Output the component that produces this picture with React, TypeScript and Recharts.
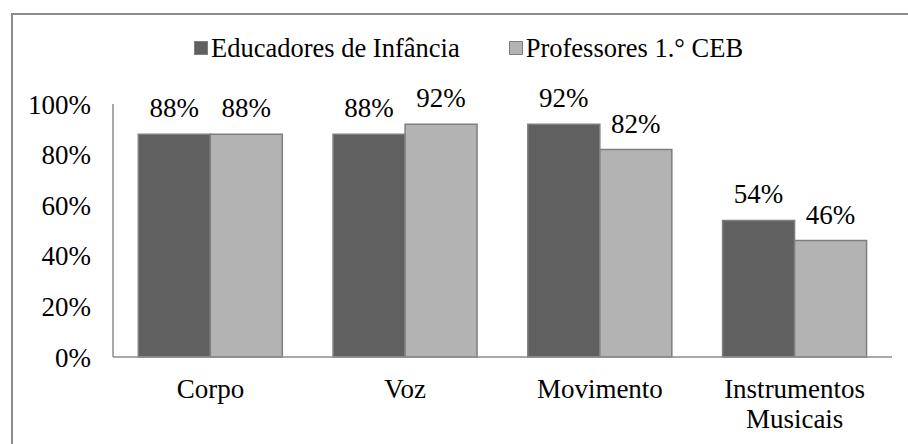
import { Bar, BarChart, XAxis, YAxis, Legend, LabelList } from "recharts"

const categories = ["Corpo", "Voz", "Movimento", "Instrumentos Musicais"]
const educadores = [88, 88, 92, 54]
const professores = [88, 92, 82, 46]
const yTicks = [0, 20, 40, 60, 80, 100]
const seriesNames = ["Educadores de Infância", "Professores 1.° CEB"]

const data = categories.map((name, i) => ({
    name,
    educadores: educadores[i],
    professores: professores[i],
}))

const FONT = "'Liberation Serif', 'Times New Roman', Tinos, 'Nimbus Roman', 'DejaVu Serif', serif"
const FS = 27
const DARK = "#606060"
const LIGHT = "#b3b3b3"
const EDGE = "#7f7f7f"

function CategoryTick(props: any) {
    const { x, y, payload } = props
    const label: string = payload.value
    const lines = label.length > 12 ? label.split(" ") : [label]
    return (
        <text x={x} y={y + 33} textAnchor="middle" fill="#000" style={{ fontFamily: FONT, fontSize: FS }}>
            {lines.map((l, i) => (
                <tspan key={i} x={x} dy={i === 0 ? 0 : 30}>
                    {l}
                </tspan>
            ))}
        </text>
    )
}

function ValueLabel(props: any) {
    const { x, y, width, value } = props
    return (
        <text x={x + width / 2} y={y - 17} textAnchor="middle" fill="#000" style={{ fontFamily: FONT, fontSize: FS }}>
            {`${value}%`}
        </text>
    )
}

function ChartLegend() {
    const colors = [DARK, LIGHT]
    return (
        <div
            style={{
                display: "flex",
                gap: 49,
                fontFamily: FONT,
                fontSize: 26.5,
                lineHeight: "30px",
                color: "#000",
            }}
        >
            {seriesNames.map((n, i) => (
                <div key={n} style={{ display: "flex", alignItems: "center" }}>
                    <span
                        style={{
                            display: "inline-block",
                            width: 12,
                            height: 12,
                            background: colors[i],
                            border: `1px solid ${EDGE}`,
                            marginRight: 3,
                        }}
                    />
                    <span style={{ whiteSpace: "nowrap" }}>{n}</span>
                </div>
            ))}
        </div>
    )
}

export default function App() {
    return (
        <div style={{ position: "absolute", left: 0, top: 0, width: 908, height: 444, background: "#fff", overflow: "hidden", fontFamily: FONT }}>
            <div
                style={{
                    position: "absolute",
                    left: 11,
                    top: 13,
                    width: 920,
                    height: 460,
                    borderTop: "2px solid #8a8a8a",
                    borderLeft: "2px solid #8a8a8a",
                }}
            />
            <BarChart
                width={908}
                height={444}
                data={data}
                margin={{ top: 104, right: 16, bottom: 57, left: 0 }}
                barCategoryGap="13%"
                barGap={0}
                style={{ position: "absolute", left: 0, top: 0, fontFamily: FONT }}
            >
                <XAxis
                    dataKey="name"
                    axisLine={{ stroke: "#8c8c8c", strokeWidth: 1.5 }}
                    tickLine={false}
                    tick={<CategoryTick />}
                    interval={0}
                />
                <YAxis
                    width={113}
                    domain={[0, 100]}
                    ticks={yTicks}
                    tickFormatter={(v) => `${v}%`}
                    axisLine={{ stroke: "#8c8c8c", strokeWidth: 1.5 }}
                    tickLine={false}
                    tickMargin={16}
                    tick={{ fill: "#000", style: { fontFamily: FONT, fontSize: FS } }}
                />
                <Legend
                    verticalAlign="middle"
                    align="center"
                    content={<ChartLegend />}
                    wrapperStyle={{ top: 33, left: 194, width: 700 }}
                />
                <Bar dataKey="educadores" name={seriesNames[0]} fill={DARK} stroke={EDGE} strokeWidth={1.5} isAnimationActive={false}>
                    <LabelList dataKey="educadores" content={<ValueLabel />} />
                </Bar>
                <Bar dataKey="professores" name={seriesNames[1]} fill={LIGHT} stroke={EDGE} strokeWidth={1.5} isAnimationActive={false}>
                    <LabelList dataKey="professores" content={<ValueLabel />} />
                </Bar>
            </BarChart>
        </div>
    )
}
